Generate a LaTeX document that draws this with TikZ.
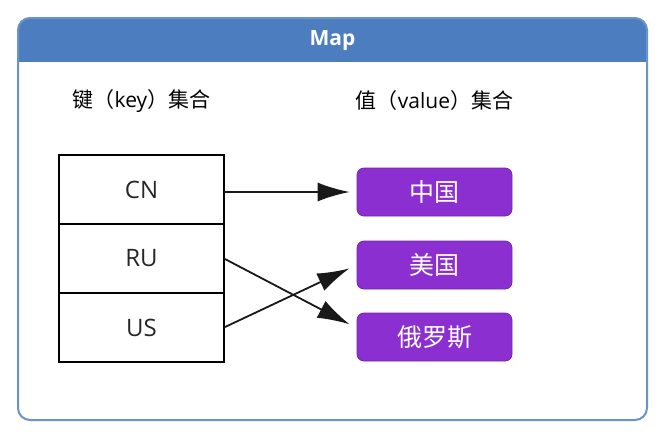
\documentclass[tikz,border=0pt]{standalone}
\usepackage{fontspec}
\setmainfont{Open Sans}
\newfontfamily\cjk{Noto Sans CJK SC}
\usetikzlibrary{positioning,arrows.meta}
\definecolor{headblue}{HTML}{4C7EBF}
\definecolor{frameblue}{HTML}{6A93C9}
\definecolor{valpurple}{HTML}{8B2FD0}
\definecolor{valedge}{HTML}{7424B0}
\begin{document}
\begin{tikzpicture}[%
    x=1pt, y=-1pt,
    keybox/.style={draw, line width=2pt, outer sep=0pt, minimum width=165pt,
      minimum height=69pt, inner sep=0pt, font=\fontsize{24}{28}\selectfont,
      text=black!85},
    valbox/.style={draw=valedge, fill=valpurple, rounded corners=7pt, line width=0.8pt,
      minimum width=155pt, minimum height=48pt, text=white,
      font=\cjk\fontsize{25}{28}\selectfont},
    setlabel/.style={font=\fontsize{21}{26}\selectfont},
    link/.style={-{Latex[length=32pt,width=19pt]}, line width=1.8pt, black!90}]
    \useasboundingbox (0,0) rectangle (663,445);
    % frame with title bar
    \begin{scope}
      \clip[rounded corners=12pt] (18,18) rectangle (647,420);
      \fill[headblue] (18,18) rectangle (647,62);
    \end{scope}
    \draw[frameblue, line width=2pt, rounded corners=12pt] (18,18) rectangle (647,420);
    \node[text=white, font=\bfseries\fontsize{21}{24}\selectfont] (title) at (332.5,41) {Map};

    \node[setlabel] (keyset) at (141.5,101) {{\cjk 键（}key{\cjk ）集合}};
    \node[setlabel] (valset) at (434.5,101) {{\cjk 值（}value{\cjk ）集合}};

    \node[keybox] (cn) at (141.5,189.5) {CN};
    \node[keybox, below=0pt of cn] (ru) {RU};
    \node[keybox, below=0pt of ru] (us) {US};

    \node[valbox] (china) at (434.5,192) {中国};
    \node[valbox] (america) at (434.5,265) {美国};
    \node[valbox] (russia) at (434.5,337) {俄罗斯};

    \draw[link, shorten >=7pt] (cn.east |- china.west) -- (china.west);
    \draw[link, shorten >=8pt] (ru.east) -- ([yshift=9pt]russia.west);
    \draw[link, shorten >=8pt] (us.east) -- (america.west);
  \end{tikzpicture}
\end{document}
